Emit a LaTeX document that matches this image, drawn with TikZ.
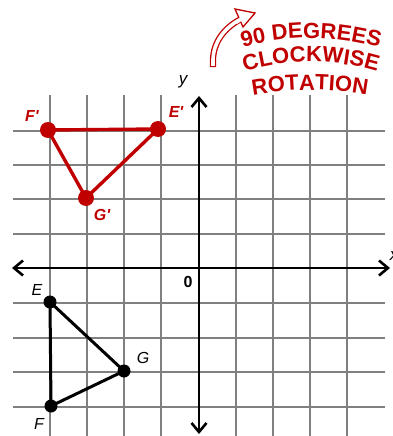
\documentclass[tikz,border=0pt]{standalone}
\usepackage{fontspec}
\setmainfont{Liberation Sans}
\usetikzlibrary{arrows.meta,decorations.text}
\definecolor{rred}{RGB}{192,0,0}
\definecolor{gridgray}{RGB}{128,128,128}
\newcommand\titlefont{\color{rred}\fontsize{22}{22}\selectfont\bfseries}
\begin{document}
\begin{tikzpicture}[x=1pt,y=-1pt,
  gridline/.style={gridgray, line width=2.2pt},
  axis/.style={black, line width=2.6pt, {Straight Barb[length=9pt,width=15pt]}-{Straight Barb[length=9pt,width=15pt]}},
  redline/.style={rred, line width=3.4pt, line join=round},
  blkline/.style={black, line width=3pt, line join=round},
  redlab/.style={rred, inner sep=0pt, font=\fontsize{16}{16}\selectfont\bfseries\itshape},
  blklab/.style={black, inner sep=0pt, font=\fontsize{16}{16}\selectfont\itshape},
  axlab/.style={black, inner sep=0pt, font=\fontsize{17}{17}\selectfont\itshape},
  origlab/.style={black, inner sep=0pt, font=\fontsize{16}{16}\selectfont\bfseries},
  titleline/.style={decorate, decoration={text along path, text align=center, text={|\titlefont|#1}}}
]
\useasboundingbox (0,0) rectangle (393,436);
\clip (0,0) rectangle (393,436);
\fill[white] (0,0) rectangle (393,436);

% grid
\foreach \x in {50,87,124,161,236,273,310,347} \draw[gridline] (\x,95) -- (\x,436);
\foreach \y in {131,165,199,234,303,338,372,407} \draw[gridline] (13,\y) -- (385,\y);

% axes
\coordinate (xl) at (12,268);
\coordinate (xr) at (390,268);
\coordinate (yt) at (199,96);
\coordinate (yb) at (199,434);
\draw[axis] (xl) -- (xr);
\draw[axis] (yb) -- (yt);
\node[axlab] (ylab) at (183,82) {y};
\node[axlab] (xlab) at (394,256) {x};
\node[origlab] (orig) at (188,282) {0};

% rotated triangle
\coordinate (Fp) at (48,130);
\coordinate (Ep) at (158,129);
\coordinate (Gp) at (86,198);
\draw[redline] (Fp) -- (Ep) -- (Gp) -- cycle;
\foreach \p in {Fp,Ep,Gp} \fill[rred] (\p) circle[radius=8];
\node[redlab] (Fplab) at (32,116) {F\textquotesingle};
\node[redlab] (Eplab) at (176,112) {E\textquotesingle};
\node[redlab] (Gplab) at (102,215) {G\textquotesingle};

% original triangle
\coordinate (E) at (50,302);
\coordinate (G) at (124,371);
\coordinate (F) at (51,406);
\draw[blkline] (E) -- (G) -- (F) -- cycle;
\foreach \p in {E,G,F} \fill[black] (\p) circle[radius=6.5];
\node[blklab] (Elab) at (37,290) {E};
\node[blklab] (Glab) at (143,358) {G};
\node[blklab] (Flab) at (39,424) {F};

% curved outlined arrow
\coordinate (a0) at (213,64);
\coordinate (a1) at (241,19);
\draw[rred, line width=1.3pt, double=white, double distance=3.6pt, line cap=rect]
  (a0) .. controls (212,45) and (222,29) .. (a1);
\coordinate (h1) at (235,9);
\coordinate (h2) at (255,13);
\coordinate (h3) at (243,27);
\draw[rred, line width=1.3pt, fill=white, line join=miter] (h1) -- (h2) -- (h3) -- cycle;
\draw[white, line width=3.6pt] (236,22.5) -- (242,18.5);

% title
\path[titleline={90 DEGREES}] (227.2,52.8) arc[start angle=250,end angle=290,radius=245];
\path[titleline={CLOCKWISE}] (224.8,78.7) arc[start angle=248,end angle=292,radius=230];
\path[titleline={ROTATION}] (227.2,100.9) arc[start angle=255,end angle=285,radius=320];
\end{tikzpicture}
\end{document}
